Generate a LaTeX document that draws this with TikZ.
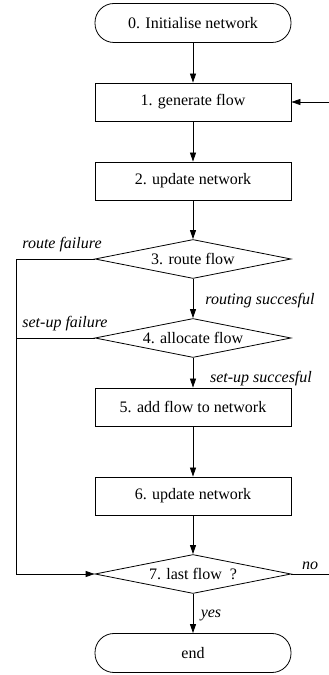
\documentclass[tikz,border=0pt]{standalone}
\usepackage{fontspec}
\setmainfont{Liberation Serif}
\usetikzlibrary{shapes.geometric,arrows.meta}
\definecolor{col_000000}{RGB}{0,0,0}
\definecolor{col_ffffff}{RGB}{255,255,255}
\tikzset{
  terminal/.style={draw=col_000000, line width=0.8pt, rounded corners=19pt, minimum width=196pt, minimum height=39pt, inner sep=0pt},
  process/.style={draw=col_000000, line width=0.8pt, rectangle, minimum width=196pt, minimum height=38pt, inner sep=0pt},
  decision/.style={draw=col_000000, line width=0.8pt, diamond, shape aspect=5, minimum width=196pt, minimum height=39pt, inner sep=0pt},
  flowline/.style={col_000000, line width=0.8pt, -{Triangle[length=9pt,width=6pt]}},
  plainline/.style={col_000000, line width=0.8pt},
  branch/.style={font=\fontsize{16}{19}\selectfont\itshape, inner sep=0pt},
}

\begin{document}
\begin{tikzpicture}[x=1pt,y=1pt,font=\fontsize{16}{19}\selectfont]
\useasboundingbox (0,0) rectangle (329,675);
%% steps
\node[terminal] (init) at (193,652) {0. Initialise network};
\node[process]  (gen)  at (193,573) {1. generate flow};
\node[process]  (upd)  at (193,494) {2. update network};
\node[decision] (route) at (193,416) {3. route flow};
\node[decision] (alloc) at (193,337) {4. allocate flow};
\node[process]  (add)  at (193,268) {5. add flow to network};
\node[process]  (upd2) at (193,179) {6. update network};
\node[decision] (last) at (193,101) {7. last flow\ \ ?};
\node[terminal] (fin)  at (193,22)  {end};
%% labels
\node[branch] (lrf) at (62,430) {route failure};
\node[branch] (lsf) at (65,351) {set-up failure};
\node[branch] (lrs) at (260,374) {routing succesful};
\node[branch] (lss) at (261,296) {set-up succesful};
\node[branch] (lno) at (310,109) {no};
\node[branch] (lyes) at (211,60) {yes};
%% loop ends
\coordinate (cl3) at (16,416);
\coordinate (cl7) at (16,101);
\coordinate (cr1) at (329,573);
\coordinate (cr7) at (329,101);
%% connectors
\draw[flowline] (init) -- (gen);
\draw[flowline] (gen) -- (upd);
\draw[flowline] (upd) -- (route);
\draw[flowline] (route) -- (alloc);
\draw[flowline] (alloc) -- (add);
\draw[flowline] (add) -- (upd2);
\draw[flowline] (upd2) -- (last);
\draw[flowline] (last) -- (fin);
\draw[flowline] (route.west) -- (cl3) -- (cl7) -- (last.west);
\draw[plainline] (alloc.west) -- (alloc.west -| cl3);
\draw[plainline] (last.east) -- (cr7);
\draw[flowline] (cr1) -- (gen.east);
\end{tikzpicture}
\end{document}
